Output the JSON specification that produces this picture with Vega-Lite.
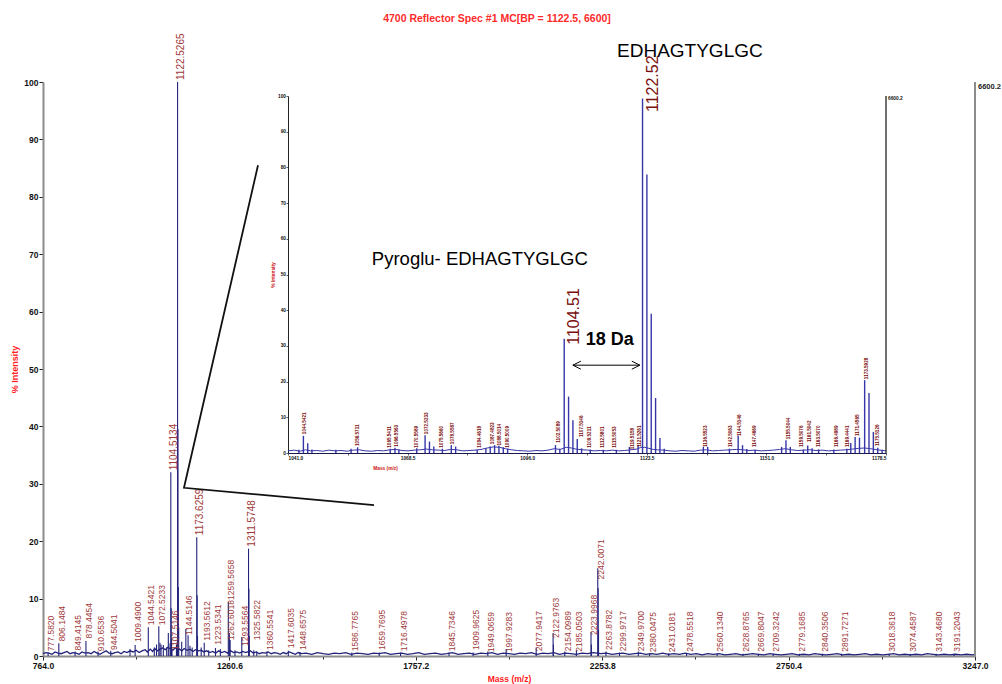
{
"$schema": "https://vega.github.io/schema/vega-lite/v6.json",
"width": 932, "height": 574,
"autosize": {"type": "none"},
"padding": {"left": 43, "top": 82, "right": 27, "bottom": 28},
"background": "white",
"config": {"view": {"stroke": null}, "font": "Liberation Sans"},
"title": {"text": "4700 Reflector Spec #1 MC[BP = 1122.5, 6600]", "font": "Liberation Sans", "fontSize": 10.5, "fontWeight": "bold", "color": "#ff2b2b", "anchor": "middle", "frame": "group", "dx": -12, "offset": 9},
"datasets": {
"mnoise": [{"m":764,"i":0.4},{"m":772,"i":0.6},{"m":780,"i":0.5},{"m":788,"i":0.3},{"m":796,"i":0.7},{"m":804,"i":0.5},{"m":812,"i":0.4},{"m":820,"i":0.6},{"m":828,"i":0.8},{"m":836,"i":0.4},{"m":844,"i":0.6},{"m":852,"i":0.5},{"m":860,"i":0.3},{"m":868,"i":0.7},{"m":876,"i":0.5},{"m":884,"i":0.6},{"m":892,"i":0.4},{"m":900,"i":0.8},{"m":908,"i":0.5},{"m":916,"i":0.3},{"m":924,"i":0.6},{"m":932,"i":0.9},{"m":940,"i":0.5},{"m":948,"i":0.4},{"m":956,"i":0.6},{"m":964,"i":0.7},{"m":972,"i":0.4},{"m":980,"i":0.8},{"m":988,"i":0.6},{"m":996,"i":0.9},{"m":1004,"i":0.7},{"m":1012,"i":1.0},{"m":1020,"i":0.6},{"m":1028,"i":0.9},{"m":1036,"i":1.1},{"m":1042,"i":0.7},{"m":1050,"i":1.2},{"m":1056,"i":0.8},{"m":1062,"i":1.3},{"m":1068,"i":0.9},{"m":1076,"i":1.2},{"m":1082,"i":1.4},{"m":1090,"i":1.1},{"m":1096,"i":1.5},{"m":1102,"i":1.3},{"m":1110,"i":1.0},{"m":1116,"i":1.4},{"m":1128,"i":1.2},{"m":1134,"i":0.9},{"m":1140,"i":1.3},{"m":1148,"i":1.0},{"m":1156,"i":1.2},{"m":1164,"i":0.8},{"m":1170,"i":1.1},{"m":1178,"i":0.9},{"m":1186,"i":1.0},{"m":1192,"i":0.7},{"m":1200,"i":0.9},{"m":1208,"i":0.6},{"m":1216,"i":0.8},{"m":1224,"i":0.5},{"m":1232,"i":0.9},{"m":1240,"i":0.6},{"m":1248,"i":0.8},{"m":1256,"i":0.5},{"m":1264,"i":0.9},{"m":1272,"i":0.6},{"m":1280,"i":0.7},{"m":1288,"i":0.5},{"m":1296,"i":0.8},{"m":1304,"i":0.6},{"m":1316,"i":0.9},{"m":1324,"i":0.5},{"m":1332,"i":0.7},{"m":1340,"i":0.4},{"m":1348,"i":0.6},{"m":1356,"i":0.5},{"m":1364,"i":0.7},{"m":1372,"i":0.4},{"m":1380,"i":0.6},{"m":1388,"i":0.5},{"m":1396,"i":0.3},{"m":1404,"i":0.6},{"m":1412,"i":0.4},{"m":1420,"i":0.7},{"m":1428,"i":0.5},{"m":1436,"i":0.3},{"m":1444,"i":0.6},{"m":1452,"i":0.4},{"m":1465,"i":0.5},{"m":1480,"i":0.3},{"m":1495,"i":0.6},{"m":1510,"i":0.4},{"m":1525,"i":0.3},{"m":1540,"i":0.5},{"m":1555,"i":0.4},{"m":1570,"i":0.6},{"m":1585,"i":0.3},{"m":1600,"i":0.5},{"m":1615,"i":0.4},{"m":1630,"i":0.3},{"m":1645,"i":0.5},{"m":1660,"i":0.4},{"m":1675,"i":0.6},{"m":1690,"i":0.3},{"m":1705,"i":0.4},{"m":1720,"i":0.5},{"m":1735,"i":0.3},{"m":1750,"i":0.4},{"m":1765,"i":0.6},{"m":1780,"i":0.3},{"m":1795,"i":0.4},{"m":1810,"i":0.5},{"m":1825,"i":0.3},{"m":1840,"i":0.4},{"m":1855,"i":0.6},{"m":1870,"i":0.3},{"m":1885,"i":0.4},{"m":1900,"i":0.5},{"m":1915,"i":0.3},{"m":1930,"i":0.5},{"m":1945,"i":0.4},{"m":1960,"i":0.6},{"m":1975,"i":0.3},{"m":1990,"i":0.5},{"m":2005,"i":0.4},{"m":2020,"i":0.3},{"m":2035,"i":0.5},{"m":2050,"i":0.4},{"m":2065,"i":0.6},{"m":2080,"i":0.3},{"m":2095,"i":0.5},{"m":2110,"i":0.4},{"m":2125,"i":0.6},{"m":2140,"i":0.3},{"m":2155,"i":0.5},{"m":2170,"i":0.4},{"m":2185,"i":0.3},{"m":2200,"i":0.5},{"m":2215,"i":0.4},{"m":2230,"i":0.6},{"m":2250,"i":0.4},{"m":2265,"i":0.5},{"m":2280,"i":0.3},{"m":2295,"i":0.4},{"m":2310,"i":0.5},{"m":2325,"i":0.3},{"m":2340,"i":0.4},{"m":2355,"i":0.5},{"m":2370,"i":0.3},{"m":2385,"i":0.4},{"m":2400,"i":0.3},{"m":2415,"i":0.5},{"m":2430,"i":0.3},{"m":2445,"i":0.4},{"m":2460,"i":0.3},{"m":2475,"i":0.5},{"m":2490,"i":0.3},{"m":2505,"i":0.4},{"m":2520,"i":0.2},{"m":2535,"i":0.4},{"m":2550,"i":0.3},{"m":2565,"i":0.4},{"m":2580,"i":0.2},{"m":2595,"i":0.3},{"m":2610,"i":0.4},{"m":2625,"i":0.2},{"m":2640,"i":0.3},{"m":2655,"i":0.4},{"m":2670,"i":0.3},{"m":2685,"i":0.2},{"m":2700,"i":0.4},{"m":2715,"i":0.3},{"m":2730,"i":0.2},{"m":2745,"i":0.3},{"m":2760,"i":0.4},{"m":2775,"i":0.2},{"m":2790,"i":0.3},{"m":2805,"i":0.2},{"m":2820,"i":0.4},{"m":2835,"i":0.3},{"m":2850,"i":0.2},{"m":2865,"i":0.3},{"m":2880,"i":0.4},{"m":2895,"i":0.2},{"m":2910,"i":0.3},{"m":2925,"i":0.2},{"m":2940,"i":0.3},{"m":2955,"i":0.4},{"m":2970,"i":0.2},{"m":2985,"i":0.3},{"m":3000,"i":0.2},{"m":3015,"i":0.3},{"m":3030,"i":0.4},{"m":3045,"i":0.2},{"m":3060,"i":0.3},{"m":3075,"i":0.2},{"m":3090,"i":0.3},{"m":3105,"i":0.2},{"m":3120,"i":0.4},{"m":3135,"i":0.3},{"m":3150,"i":0.2},{"m":3165,"i":0.3},{"m":3180,"i":0.2},{"m":3195,"i":0.3},{"m":3210,"i":0.2},{"m":3225,"i":0.3},{"m":3240,"i":0.2},{"m":3247,"i":0.3}],
"mpk": [{"m":777.58,"i":0.6},{"m":806.15,"i":2.2},{"m":849.41,"i":0.8},{"m":878.45,"i":2.6},{"m":910.65,"i":0.8},{"m":944.5,"i":0.9},{"m":995.8,"i":1.2},{"m":1009.49,"i":1.9},{"m":1044.54,"i":5.0},{"m":1060.5,"i":1.5},{"m":1066.5,"i":2.0},{"m":1072.52,"i":5.2},{"m":1075.5,"i":2.3},{"m":1078.5,"i":2.0},{"m":1084.6,"i":1.9},{"m":1093.5,"i":1.5},{"m":1097.9,"i":4.0},{"m":1102.5,"i":2.2},{"m":1104.51,"i":32.0},{"m":1105.51,"i":8.3},{"m":1106.5,"i":3.0},{"m":1107.51,"i":1.2},{"m":1119.5,"i":2.0},{"m":1121.5,"i":2.5},{"m":1122.53,"i":100},{"m":1123.53,"i":39.5},{"m":1124.53,"i":12},{"m":1125.53,"i":5},{"m":1133.5,"i":2.5},{"m":1144.51,"i":4.7},{"m":1150.5,"i":3.6},{"m":1155.5,"i":1.8},{"m":1161.5,"i":1.5},{"m":1173.63,"i":20.7},{"m":1174.63,"i":10.6},{"m":1175.63,"i":3.5},{"m":1185.5,"i":1.5},{"m":1193.56,"i":2.3},{"m":1205.5,"i":1.0},{"m":1223.53,"i":1.4},{"m":1236.5,"i":1.2},{"m":1257.7,"i":9.4},{"m":1260.57,"i":4.0},{"m":1262.6,"i":2.8},{"m":1275.5,"i":1.0},{"m":1293.56,"i":3.3},{"m":1311.57,"i":18.7},{"m":1312.58,"i":11.7},{"m":1313.58,"i":3.5},{"m":1325.58,"i":1.0},{"m":1333.5,"i":0.8},{"m":1360.55,"i":0.8},{"m":1417.6,"i":0.9},{"m":1448.66,"i":0.7},{"m":1586.78,"i":0.6},{"m":1659.77,"i":0.6},{"m":1716.5,"i":0.6},{"m":1845.73,"i":0.6},{"m":1909.96,"i":0.6},{"m":1949.07,"i":0.8},{"m":1997.93,"i":1.2},{"m":2077.94,"i":1.5},{"m":2122.98,"i":4.0},{"m":2123.98,"i":2.0},{"m":2154.1,"i":0.8},{"m":2185.05,"i":1.0},{"m":2223.99,"i":4.2},{"m":2225.0,"i":2.0},{"m":2242.01,"i":15.3},{"m":2243.01,"i":11.8},{"m":2244.01,"i":4.5},{"m":2263.88,"i":0.8},{"m":2299.97,"i":0.6},{"m":2349.97,"i":0.8},{"m":2380.05,"i":0.5},{"m":2431.02,"i":0.5},{"m":2478.55,"i":0.5},{"m":2560.13,"i":0.4},{"m":2628.88,"i":0.4},{"m":2669.8,"i":0.4},{"m":2709.32,"i":0.4},{"m":2779.17,"i":0.4},{"m":2840.35,"i":0.4},{"m":2891.73,"i":0.4},{"m":3018.36,"i":0.4},{"m":3074.46,"i":0.4},{"m":3143.47,"i":0.4},{"m":3191.2,"i":0.4}],
"mlab": [{"t":"777.5820","m":777.582,"i":0.5},{"t":"806.1484","m":806.1484,"i":2.2},{"t":"849.4145","m":849.4145,"i":0.6},{"t":"878.4454","m":878.4454,"i":2.7},{"t":"910.6536","m":910.6536,"i":0.5},{"t":"944.5041","m":944.5041,"i":0.7},{"t":"1009.4900","m":1009.49,"i":2.1},{"t":"1044.5421","m":1044.5421,"i":5.0},{"t":"1072.5233","m":1072.5233,"i":5.0},{"t":"1107.5146","m":1107.5146,"i":0.7},{"t":"1144.5146","m":1144.5146,"i":3.3},{"t":"1193.5612","m":1193.5612,"i":2.3},{"t":"1223.5341","m":1223.5341,"i":1.6},{"t":"1262.6018","m":1257.7,"i":2.4},{"t":"1259.5658","m":1257.7,"i":9.4},{"t":"1293.5564","m":1293.5564,"i":1.4},{"t":"1325.5822","m":1325.5822,"i":2.4},{"t":"1360.5541","m":1360.5541,"i":0.7},{"t":"1417.6035","m":1417.6035,"i":1.0},{"t":"1448.6575","m":1448.6575,"i":0.7},{"t":"1586.7765","m":1586.7765,"i":0.5},{"t":"1659.7695","m":1659.7695,"i":0.7},{"t":"1716.4978","m":1716.4978,"i":0.5},{"t":"1845.7346","m":1845.7346,"i":0.5},{"t":"1909.9625","m":1909.9625,"i":0.7},{"t":"1949.0659","m":1949.0659,"i":0.3},{"t":"1997.9283","m":1997.9283,"i":0.3},{"t":"2077.9417","m":2077.9417,"i":0.5},{"t":"2122.9763","m":2122.9763,"i":2.8},{"t":"2154.0989","m":2154.0989,"i":0.5},{"t":"2185.0503","m":2185.0503,"i":0.4},{"t":"2223.9968","m":2223.9968,"i":3.3},{"t":"2242.0071","m":2242.0071,"i":13.0},{"t":"2263.8782","m":2263.8782,"i":0.7},{"t":"2299.9717","m":2299.9717,"i":0.5},{"t":"2349.9700","m":2349.97,"i":0.5},{"t":"2380.0475","m":2380.0475,"i":0.3},{"t":"2431.0181","m":2431.0181,"i":0.3},{"t":"2478.5518","m":2478.5518,"i":0.4},{"t":"2560.1340","m":2560.134,"i":0.4},{"t":"2628.8765","m":2628.8765,"i":0.4},{"t":"2669.8047","m":2669.8047,"i":0.4},{"t":"2709.3242","m":2709.3242,"i":0.4},{"t":"2779.1685","m":2779.1685,"i":0.4},{"t":"2840.3506","m":2840.3506,"i":0.4},{"t":"2891.7271","m":2891.7271,"i":0.4},{"t":"3018.3618","m":3018.3618,"i":0.4},{"t":"3074.4587","m":3074.4587,"i":0.4},{"t":"3143.4680","m":3143.468,"i":0.4},{"t":"3191.2043","m":3191.2043,"i":0.4}],
"mlabbig": [{"t":"1104.5134","m":1104.5134,"i":32.0},{"t":"1122.5265","m":1122.5265,"i":100},{"t":"1173.6259","m":1173.6259,"i":20.7},{"t":"1311.5748","m":1311.5748,"i":18.7}],
"zoomlines": [{"m":1336.8,"i":85.5,"o":0},{"m":1139.6,"i":29.3,"o":1},{"m":1645.8,"i":26.3,"o":2}],
"inoise": [{"m":1041.0,"i":0.6},{"m":1042.4,"i":0.8},{"m":1043.8,"i":0.5},{"m":1045.0,"i":0.9},{"m":1046.2,"i":0.6},{"m":1047.6,"i":0.7},{"m":1049.0,"i":0.5},{"m":1050.4,"i":0.8},{"m":1051.8,"i":0.6},{"m":1053.2,"i":0.7},{"m":1054.6,"i":0.5},{"m":1056.0,"i":0.8},{"m":1057.4,"i":0.9},{"m":1058.8,"i":0.6},{"m":1060.2,"i":0.5},{"m":1061.6,"i":0.7},{"m":1063.0,"i":0.6},{"m":1064.4,"i":0.9},{"m":1065.8,"i":1.0},{"m":1067.2,"i":0.7},{"m":1068.6,"i":0.6},{"m":1070.0,"i":0.8},{"m":1071.4,"i":0.9},{"m":1072.8,"i":1.1},{"m":1074.2,"i":0.9},{"m":1075.6,"i":0.8},{"m":1077.0,"i":0.7},{"m":1078.4,"i":1.0},{"m":1079.8,"i":0.9},{"m":1081.2,"i":0.6},{"m":1082.6,"i":0.7},{"m":1084.0,"i":0.8},{"m":1085.4,"i":1.0},{"m":1086.8,"i":1.4},{"m":1088.2,"i":1.7},{"m":1089.6,"i":1.6},{"m":1091.0,"i":1.2},{"m":1092.4,"i":0.9},{"m":1093.8,"i":0.7},{"m":1095.2,"i":0.6},{"m":1096.6,"i":0.5},{"m":1098.0,"i":0.7},{"m":1099.4,"i":0.6},{"m":1100.8,"i":0.8},{"m":1102.2,"i":1.2},{"m":1103.6,"i":1.0},{"m":1105.0,"i":1.6},{"m":1106.2,"i":1.4},{"m":1107.2,"i":1.1},{"m":1108.6,"i":0.9},{"m":1110.0,"i":0.8},{"m":1111.4,"i":0.6},{"m":1112.8,"i":0.7},{"m":1114.2,"i":0.6},{"m":1115.6,"i":0.8},{"m":1117.0,"i":0.6},{"m":1118.4,"i":0.7},{"m":1119.8,"i":0.9},{"m":1121.2,"i":1.1},{"m":1122.0,"i":1.5},{"m":1123.0,"i":1.6},{"m":1124.0,"i":1.3},{"m":1125.0,"i":1.0},{"m":1126.0,"i":0.9},{"m":1127.4,"i":0.8},{"m":1128.8,"i":0.6},{"m":1130.2,"i":0.5},{"m":1131.6,"i":0.7},{"m":1133.0,"i":0.6},{"m":1134.4,"i":0.5},{"m":1135.8,"i":0.8},{"m":1137.2,"i":0.9},{"m":1138.6,"i":0.6},{"m":1140.0,"i":0.7},{"m":1141.4,"i":0.8},{"m":1142.8,"i":0.9},{"m":1144.2,"i":1.0},{"m":1145.6,"i":0.9},{"m":1147.0,"i":0.7},{"m":1148.4,"i":0.8},{"m":1149.8,"i":0.6},{"m":1151.2,"i":0.7},{"m":1152.6,"i":0.8},{"m":1154.0,"i":1.0},{"m":1155.4,"i":1.2},{"m":1156.8,"i":0.9},{"m":1158.2,"i":0.7},{"m":1159.6,"i":0.8},{"m":1161.0,"i":0.9},{"m":1162.4,"i":0.7},{"m":1163.8,"i":0.8},{"m":1165.2,"i":0.6},{"m":1166.6,"i":0.7},{"m":1168.0,"i":0.8},{"m":1169.4,"i":0.9},{"m":1170.8,"i":1.1},{"m":1172.2,"i":1.3},{"m":1173.6,"i":1.4},{"m":1175.0,"i":1.2},{"m":1176.4,"i":0.9},{"m":1177.8,"i":0.7},{"m":1178.5,"i":0.6}],
"ipk": [{"m":1043.5,"i":0.9},{"m":1044.54,"i":4.8},{"m":1045.54,"i":2.7},{"m":1046.5,"i":1.0},{"m":1052.0,"i":0.9},{"m":1055.5,"i":1.2},{"m":1057.0,"i":1.6},{"m":1064.5,"i":1.2},{"m":1065.6,"i":1.5},{"m":1066.5,"i":1.0},{"m":1070.6,"i":1.3},{"m":1072.52,"i":5.0},{"m":1073.53,"i":3.2},{"m":1074.53,"i":1.8},{"m":1076.5,"i":1.2},{"m":1078.55,"i":2.2},{"m":1079.55,"i":1.8},{"m":1084.5,"i":0.9},{"m":1086.5,"i":1.3},{"m":1087.5,"i":1.8},{"m":1088.5,"i":2.2},{"m":1089.5,"i":2.0},{"m":1090.5,"i":1.6},{"m":1091.5,"i":1.2},{"m":1102.5,"i":2.2},{"m":1103.5,"i":1.2},{"m":1104.51,"i":32.0},{"m":1105.51,"i":15.8},{"m":1106.51,"i":9.2},{"m":1107.51,"i":3.9},{"m":1108.5,"i":1.3},{"m":1110.5,"i":1.0},{"m":1113.5,"i":0.9},{"m":1116.5,"i":0.9},{"m":1119.5,"i":1.7},{"m":1121.5,"i":2.2},{"m":1122.52,"i":99.3},{"m":1123.52,"i":78.0},{"m":1124.52,"i":39.0},{"m":1125.52,"i":15.4},{"m":1126.52,"i":4.2},{"m":1127.5,"i":1.2},{"m":1136.5,"i":1.7},{"m":1137.5,"i":1.7},{"m":1142.5,"i":1.2},{"m":1144.51,"i":4.8},{"m":1145.51,"i":2.2},{"m":1146.5,"i":1.1},{"m":1148.4,"i":0.9},{"m":1154.5,"i":1.7},{"m":1155.5,"i":3.6},{"m":1156.5,"i":1.7},{"m":1159.5,"i":1.0},{"m":1160.5,"i":2.1},{"m":1161.5,"i":1.3},{"m":1163.0,"i":1.0},{"m":1166.5,"i":1.0},{"m":1169.5,"i":1.2},{"m":1170.4,"i":2.8},{"m":1171.4,"i":4.5},{"m":1172.4,"i":4.3},{"m":1173.59,"i":20.4},{"m":1174.59,"i":16.8},{"m":1175.59,"i":5.9},{"m":1176.6,"i":1.5},{"m":1177.6,"i":0.9}],
"ilab": [{"t":"1044.5421","m":1044.9,"i":5.0},{"t":"1056.5711","m":1057.1,"i":1.7},{"t":"1065.5411","m":1064.5,"i":1.2},{"t":"1066.5563","m":1066.0,"i":1.5},{"t":"1070.5589","m":1070.6,"i":1.2},{"t":"1072.5233","m":1072.9,"i":5.0},{"t":"1075.5660","m":1076.3,"i":1.2},{"t":"1078.5587","m":1079.0,"i":2.2},{"t":"1084.4618","m":1085.1,"i":1.2},{"t":"1087.4823","m":1088.2,"i":2.2},{"t":"1088.5014","m":1089.7,"i":1.8},{"t":"1090.5009","m":1091.7,"i":1.2},{"t":"1102.5089","m":1103.2,"i":2.6},{"t":"1107.5146","m":1108.5,"i":4.2},{"t":"1109.5211","m":1110.4,"i":1.2},{"t":"1112.5801","m":1113.5,"i":1.2},{"t":"1115.5053","m":1116.2,"i":1.2},{"t":"1119.5158","m":1120.4,"i":0.8},{"t":"1121.5261","m":1122.0,"i":1.4},{"t":"1136.5523","m":1137.1,"i":1.4},{"t":"1142.5063","m":1142.8,"i":1.4},{"t":"1144.5146","m":1144.9,"i":4.5},{"t":"1147.4669","m":1148.4,"i":1.4},{"t":"1155.5044","m":1156.3,"i":3.6},{"t":"1159.5076","m":1159.1,"i":1.4},{"t":"1161.5042","m":1161.0,"i":2.8},{"t":"1163.5070","m":1163.2,"i":1.4},{"t":"1166.4989","m":1167.2,"i":1.4},{"t":"1169.4441","m":1169.8,"i":1.4},{"t":"1171.4565","m":1172.0,"i":4.5},{"t":"1173.5928","m":1174.2,"i":20.4},{"t":"1175.5126","m":1176.7,"i":1.7}]
},
"layer": [
{"layer": [
 {"data": {"name": "mnoise"}, "mark": {"type": "line", "color": "#23237a", "strokeWidth": 1.3},
  "encoding": {
   "x": {"field": "m", "type": "quantitative", "scale": {"domain": [764, 3247], "nice": false, "zero": false},
    "axis": {"values": [764, 1012.3, 1260.6, 1508.9, 1757.2, 2005.5, 2253.8, 2502.1, 2750.4, 2998.7, 3247], "labelExpr": "round((datum.value-764)/248.3)%2==0 ? format(datum.value,'.1f') : ''", "tickSize": {"condition": {"test": "round((datum.value-764)/248.3)%2==0", "value": 4}, "value": 3}, "domainColor": "#8c8c8c", "domainWidth": 2, "tickColor": "#222", "labelFont": "Liberation Sans", "labelFontWeight": "bold", "labelFontSize": 8.5, "labelColor": "#111", "labelPadding": 1, "labelOverlap": false, "labelFlush": false, "grid": false, "title": "Mass (m/z)", "titleFont": "Liberation Sans", "titleFontSize": 8.5, "titleFontWeight": "bold", "titleColor": "#ff2020", "titlePadding": 5}},
   "y": {"field": "i", "type": "quantitative", "scale": {"domain": [0, 100], "nice": false},
    "axis": {"values": [0,5,10,15,20,25,30,35,40,45,50,55,60,65,70,75,80,85,90,95,100], "labelExpr": "datum.value % 10 == 0 ? datum.value : ''", "tickSize": {"condition": {"test": "datum.value % 10 == 0", "value": 4}, "value": 2}, "domainColor": "#8c8c8c", "domainWidth": 2, "tickColor": "#222", "labelFont": "Liberation Sans", "labelFontWeight": "bold", "labelFontSize": 8.5, "labelColor": "#111", "labelPadding": 1, "labelOverlap": false, "grid": false, "title": "% Intensity", "titleFont": "Liberation Sans", "titleFontSize": 9, "titleFontWeight": "bold", "titleColor": "#ff2020", "titlePadding": 4}}
  }},
 {"data": {"name": "mpk"}, "mark": {"type": "rule", "color": "#23237a", "strokeWidth": 1.1},
  "encoding": {"x": {"field": "m", "type": "quantitative"}, "y": {"field": "i", "type": "quantitative"}, "y2": {"datum": 0}}},
 {"data": {"name": "mlab"}, "mark": {"type": "text", "angle": 270, "align": "left", "baseline": "middle", "dx": 2, "dy": 3, "font": "Liberation Sans", "fontSize": 8.5, "color": "#a03a3a"},
  "encoding": {"x": {"field": "m", "type": "quantitative"}, "y": {"field": "i", "type": "quantitative"}, "text": {"field": "t"}}},
 {"data": {"name": "mlabbig"}, "mark": {"type": "text", "angle": 270, "align": "left", "baseline": "middle", "dx": 2, "dy": 3, "font": "Liberation Sans", "fontSize": 10, "color": "#a03a3a"},
  "encoding": {"x": {"field": "m", "type": "quantitative"}, "y": {"field": "i", "type": "quantitative"}, "text": {"field": "t"}}},
 {"data": {"name": "zoomlines"}, "mark": {"type": "line", "color": "#111", "strokeWidth": 1.8},
  "encoding": {"x": {"field": "m", "type": "quantitative"}, "y": {"field": "i", "type": "quantitative"}, "order": {"field": "o"}}},
 {"data": {"values": [{"m": 3247, "a": 0, "b": 100}]}, "mark": {"type": "rule", "color": "#8c8c8c", "strokeWidth": 2},
  "encoding": {"x": {"field": "m", "type": "quantitative"}, "y": {"field": "a", "type": "quantitative"}, "y2": {"field": "b"}}},
 {"data": {"values": [{"m": 3247, "b": 100, "t": "6600.2"}]}, "mark": {"type": "text", "align": "left", "baseline": "top", "dx": 3, "dy": 1, "font": "Liberation Sans", "fontSize": 7.5, "fontWeight": "bold", "color": "#222"},
  "encoding": {"x": {"field": "m", "type": "quantitative"}, "y": {"field": "b", "type": "quantitative"}, "text": {"field": "t"}}}
]},
{"layer": [
 {"data": {"name": "inoise"}, "mark": {"type": "line", "color": "#3636a8", "strokeWidth": 1},
  "encoding": {
   "x": {"field": "m", "type": "quantitative", "scale": {"domain": [1041, 1178.5], "range": [245, 843], "nice": false, "zero": false},
    "axis": {"orient": "bottom", "offset": -203, "values": [1041, 1054.75, 1068.5, 1082.25, 1096, 1109.75, 1123.5, 1137.25, 1151, 1164.75, 1178.5], "labelExpr": "round((datum.value-1041)/13.75)%2==0 ? format(datum.value,'.1f') : ''", "tickSize": 2, "tickColor": "#333", "tickWidth": 0.8, "domainColor": "#1a1a50", "domainWidth": 1, "labelFont": "Liberation Sans", "labelFontSize": 4.8, "labelFontWeight": "bold", "labelColor": "#111", "labelPadding": 0.5, "labelOverlap": false, "labelFlush": true, "grid": false, "title": "Mass (m/z)", "titleFont": "Liberation Sans", "titleFontSize": 4.8, "titleFontWeight": "bold", "titleColor": "#cc1010", "titleX": 342, "titleY": 12}},
   "y": {"field": "i", "type": "quantitative", "scale": {"domain": [0, 100], "range": [371, 14], "nice": false},
    "axis": {"orient": "left", "offset": -245, "values": [0,5,10,15,20,25,30,35,40,45,50,55,60,65,70,75,80,85,90,95,100], "labelExpr": "datum.value % 10 == 0 ? datum.value : ''", "tickSize": 2, "tickColor": "#333", "tickWidth": 0.8, "domainColor": "#222", "domainWidth": 1, "labelFont": "Liberation Sans", "labelFontSize": 4.8, "labelFontWeight": "bold", "labelColor": "#111", "labelPadding": 0.5, "labelOverlap": false, "grid": false, "title": "% Intensity", "titleFont": "Liberation Sans", "titleFontSize": 4.8, "titleFontWeight": "bold", "titleColor": "#cc1010", "titlePadding": 2}}
  }},
 {"data": {"name": "ipk"}, "mark": {"type": "rule", "color": "#3636a8", "strokeWidth": 1.4},
  "encoding": {"x": {"field": "m", "type": "quantitative"}, "y": {"field": "i", "type": "quantitative"}, "y2": {"datum": 0}}},
 {"data": {"name": "ilab"}, "mark": {"type": "text", "angle": 270, "align": "left", "baseline": "middle", "dx": 1, "dy": 0, "font": "Liberation Sans", "fontSize": 4.6, "fontWeight": "bold", "color": "#7a0a0a"},
  "encoding": {"x": {"field": "m", "type": "quantitative"}, "y": {"field": "i", "type": "quantitative"}, "text": {"field": "t"}}},
 {"data": {"values": [{"m": 1178.5, "a": 0, "b": 100}]}, "mark": {"type": "rule", "color": "#111", "strokeWidth": 1.2},
  "encoding": {"x": {"field": "m", "type": "quantitative"}, "y": {"field": "a", "type": "quantitative"}, "y2": {"field": "b"}}},
 {"data": {"values": [{"m": 1178.5, "b": 100, "t": "6600.2"}]}, "mark": {"type": "text", "align": "left", "baseline": "top", "dx": 2, "dy": 0, "font": "Liberation Sans", "fontSize": 4.8, "fontWeight": "bold", "color": "#111"},
  "encoding": {"x": {"field": "m", "type": "quantitative"}, "y": {"field": "b", "type": "quantitative"}, "text": {"field": "t"}}},
 {"data": {"values": [{"t": "1122.52", "m": 1122.52, "i": 95.5}, {"t": "1104.51", "m": 1104.51, "i": 30.3}]}, "mark": {"type": "text", "angle": 270, "align": "left", "baseline": "middle", "dy": 10, "font": "Liberation Sans", "fontSize": 16, "color": "#7a1010"},
  "encoding": {"x": {"field": "m", "type": "quantitative"}, "y": {"field": "i", "type": "quantitative"}, "text": {"field": "t"}}},
 {"data": {"values": [{"t": "EDHAGTYGLGC", "m": 1133.4, "i": 112.6}]}, "mark": {"type": "text", "align": "center", "baseline": "middle", "font": "Liberation Sans", "fontSize": 19, "color": "#000"},
  "encoding": {"x": {"field": "m", "type": "quantitative"}, "y": {"field": "i", "type": "quantitative"}, "text": {"field": "t"}}},
 {"data": {"values": [{"t": "Pyroglu- EDHAGTYGLGC", "m": 1085.1, "i": 54.3}]}, "mark": {"type": "text", "align": "center", "baseline": "middle", "font": "Liberation Sans", "fontSize": 18.5, "color": "#000"},
  "encoding": {"x": {"field": "m", "type": "quantitative"}, "y": {"field": "i", "type": "quantitative"}, "text": {"field": "t"}}},
 {"data": {"values": [{"t": "18 Da", "m": 1115.0, "i": 31.7}]}, "mark": {"type": "text", "align": "center", "baseline": "middle", "font": "Liberation Sans", "fontSize": 18, "fontWeight": "bold", "color": "#000"},
  "encoding": {"x": {"field": "m", "type": "quantitative"}, "y": {"field": "i", "type": "quantitative"}, "text": {"field": "t"}}},
 {"data": {"values": [{"m": 1106.5, "i": 24.6}, {"m": 1121.9, "i": 24.6}]}, "mark": {"type": "line", "color": "#000", "strokeWidth": 1},
  "encoding": {"x": {"field": "m", "type": "quantitative"}, "y": {"field": "i", "type": "quantitative"}}},
 {"data": {"values": [{"m": 1106.5, "i": 24.6}]}, "mark": {"type": "point", "shape": "M2,-1L0,0L2,1", "size": 64, "filled": false, "color": "#000", "strokeWidth": 1, "opacity": 1},
  "encoding": {"x": {"field": "m", "type": "quantitative"}, "y": {"field": "i", "type": "quantitative"}}},
 {"data": {"values": [{"m": 1121.9, "i": 24.6}]}, "mark": {"type": "point", "shape": "M-2,-1L0,0L-2,1", "size": 64, "filled": false, "color": "#000", "strokeWidth": 1, "opacity": 1},
  "encoding": {"x": {"field": "m", "type": "quantitative"}, "y": {"field": "i", "type": "quantitative"}}}
]}
],
"resolve": {"scale": {"x": "independent", "y": "independent"}, "axis": {"x": "independent", "y": "independent"}}
}
